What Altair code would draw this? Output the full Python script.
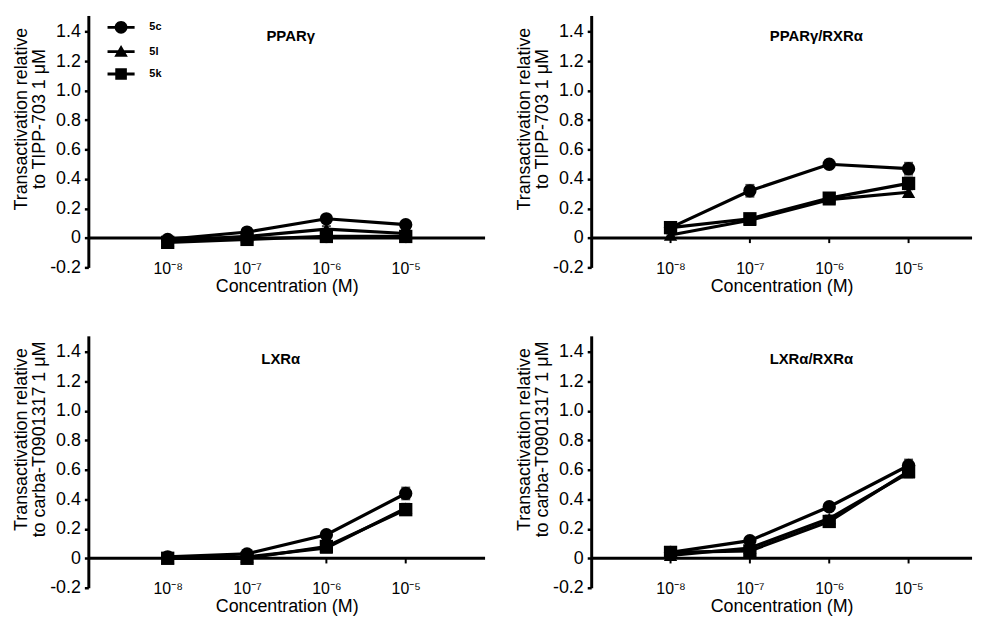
import json
import altair as alt
import pandas as pd

FONT = "Liberation Sans"

# ---------------- data ----------------
series_names = ["5c", "5l", "5k"]
series_shapes = ["circle", "triangle-up", "square"]
conc_pos = [1, 2, 3, 4]
conc_labels = ["10⁻⁸", "10⁻⁷", "10⁻⁶", "10⁻⁵"]
y_ticks = [-0.2, 0, 0.2, 0.4, 0.6, 0.8, 1.0, 1.2, 1.4]

panel_titles = ["PPARγ", "PPARγ/RXRα", "LXRα", "LXRα/RXRα"]
y_title_top = ["Transactivation relative", "to TIPP-703 1 μM"]
y_title_bottom = ["Transactivation relative", "to carba-T0901317 1 μM"]

# PPARγ
pparg_5c = [-0.01, 0.04, 0.13, 0.09]
pparg_5l = [-0.02, 0.01, 0.06, 0.03]
pparg_5k = [-0.03, -0.01, 0.01, 0.01]
pparg_err_5c = [0.02, 0.02, 0.02, 0.02]
pparg_err_5l = [0.02, 0.01, 0.02, 0.02]
pparg_err_5k = [0.01, 0.01, 0.01, 0.01]

# PPARγ/RXRα
ppargrxr_5c = [0.07, 0.32, 0.50, 0.47]
ppargrxr_5l = [0.02, 0.12, 0.26, 0.31]
ppargrxr_5k = [0.07, 0.13, 0.27, 0.37]
ppargrxr_err_5c = [0.02, 0.04, 0.02, 0.04]
ppargrxr_err_5l = [0.01, 0.02, 0.02, 0.03]
ppargrxr_err_5k = [0.02, 0.02, 0.03, 0.04]

# LXRα
lxr_5c = [0.01, 0.03, 0.16, 0.44]
lxr_5l = [0.00, 0.01, 0.07, 0.34]
lxr_5k = [0.00, 0.00, 0.08, 0.33]
lxr_err_5c = [0.01, 0.01, 0.02, 0.04]
lxr_err_5l = [0.01, 0.01, 0.02, 0.03]
lxr_err_5k = [0.01, 0.01, 0.02, 0.03]

# LXRα/RXRα
lxrrxr_5c = [0.04, 0.12, 0.35, 0.63]
lxrrxr_5l = [0.02, 0.07, 0.27, 0.58]
lxrrxr_5k = [0.04, 0.05, 0.25, 0.59]
lxrrxr_err_5c = [0.01, 0.02, 0.02, 0.04]
lxrrxr_err_5l = [0.01, 0.02, 0.02, 0.03]
lxrrxr_err_5k = [0.01, 0.02, 0.03, 0.03]

# legend symbols: marker with a short line through it
legend_paths = [
    "M-1,0 A1,1 0 1,1 1,0 A1,1 0 1,1 -1,0 Z M-2.1,-0.22 H-0.9 V0.22 H-2.1 Z M0.9,-0.22 H2.1 V0.22 H0.9 Z",
    "M0,-1.05 L1.05,0.8 L-1.05,0.8 Z M-2.1,-0.22 H-0.45 V0.22 H-2.1 Z M0.45,-0.22 H2.1 V0.22 H0.45 Z",
    "M-0.9,-0.9 H0.9 V0.9 H-0.9 Z M-2.1,-0.22 H-0.85 V0.22 H-2.1 Z M0.85,-0.22 H2.1 V0.22 H0.85 Z",
]


def panel_df(vals, errs):
    rows = []
    for s, v, e in zip(series_names, vals, errs):
        for xi, vi, ei in zip(conc_pos, v, e):
            rows.append(dict(series=s, xi=xi, value=vi, lo=vi - ei, hi=vi + ei))
    return pd.DataFrame(rows)


x_label_expr = json.dumps(conc_labels, ensure_ascii=False) + "[datum.value - 1]"
y_label_expr = ("datum.value == 0 ? '0' : (datum.value < 0 ? '-' : '') + "
                "format(abs(datum.value), '.1f')")


def make_panel(df, title, ytitle, width, xmax, tdx, tdy, legend=False):
    xs = alt.Scale(domain=[0, xmax], nice=False, zero=False)
    ys = alt.Scale(domain=[-0.2, 1.51], nice=False, zero=False)
    xax = alt.Axis(values=conc_pos, tickCount=len(conc_pos) + 2,
                   labelExpr=x_label_expr, domain=False,
                   ticks=False, tickSize=0, grid=False, labelPadding=-7,
                   labelFontSize=16, labelFont=FONT, labelColor="black",
                   labelOverlap=False,
                   title="Concentration (M)", titleFontSize=18, titleFont=FONT,
                   titleFontWeight="normal", titleColor="black", titleY=19,
                   titleBaseline="middle")
    yax = alt.Axis(values=y_ticks, tickCount=len(y_ticks) + 2,
                   labelExpr=y_label_expr, grid=False,
                   domainWidth=3, domainColor="black", tickSize=4, tickWidth=2.5,
                   tickColor="black", labelPadding=4, labelFontSize=18,
                   labelOverlap=False,
                   labelFont=FONT, labelColor="black", title=ytitle,
                   titleFontSize=18, titleFont=FONT, titleFontWeight="normal",
                   titleColor="black", titleX=-67, titleY=104, titleAngle=270,
                   titleAlign="center", titleBaseline="middle",
                   titleLineHeight=18)

    def X(f):
        return alt.X(f, scale=xs, axis=xax)

    def Y(f):
        return alt.Y(f, scale=ys, axis=yax)

    base = alt.Chart(df)
    zero = alt.Chart(pd.DataFrame({"z": [0]})).mark_rule(
        color="black", strokeWidth=3).encode(y=Y("z:Q"))
    xticks = alt.Chart(pd.DataFrame({"xi": conc_pos})).mark_rule(
        color="black", strokeWidth=2).encode(
        x=X("xi:Q"), y=alt.datum(0), y2=alt.datum(-0.035))
    lines = base.mark_line(color="black", strokeWidth=3.2).encode(
        x=X("xi:Q"), y=Y("value:Q"), detail="series:N")
    errs = base.mark_errorbar(color="black", thickness=2,
                              ticks={"size": 9, "thickness": 2}).encode(
        x=X("xi:Q"), y=Y("lo:Q"), y2="hi:Q", detail="series:N")
    pts = base.mark_point(filled=True, color="black", opacity=1, size=180).encode(
        x=X("xi:Q"), y=Y("value:Q"),
        shape=alt.Shape("series:N",
                        scale=alt.Scale(domain=series_names, range=series_shapes),
                        legend=None))
    layers = [zero, xticks, lines, errs, pts]
    if legend:
        leg = base.transform_filter("false").mark_point(
            filled=True, color="black", opacity=1).encode(
            x=X("xi:Q"), y=Y("value:Q"),
            shape=alt.Shape("series:N",
                            scale=alt.Scale(domain=series_names, range=legend_paths),
                            legend=alt.Legend(orient="none", legendX=26.5, legendY=5.5,
                                              title=None, symbolSize=169,
                                              labelFontSize=11, labelFont=FONT,
                                              labelFontWeight="bold",
                                              labelColor="black", labelOffset=22,
                                              rowPadding=10.5, padding=0,
                                              symbolFillColor="black",
                                              symbolStrokeColor="black",
                                              symbolStrokeWidth=0,
                                              symbolOpacity=1)))
        layers.append(leg)
    ch = alt.layer(*layers).properties(
        width=width, height=254,
        title=alt.TitleParams(text=title, fontSize=15, fontWeight="bold", font=FONT,
                              color="black", anchor="middle", dx=tdx, dy=tdy))
    if legend:
        ch = ch.resolve_scale(shape="independent")
    return ch


p1 = make_panel(panel_df([pparg_5c, pparg_5l, pparg_5k],
                         [pparg_err_5c, pparg_err_5l, pparg_err_5k]),
                panel_titles[0], y_title_top, 400, 5, 4, 33, legend=True)
p2 = make_panel(panel_df([ppargrxr_5c, ppargrxr_5l, ppargrxr_5k],
                         [ppargrxr_err_5c, ppargrxr_err_5l, ppargrxr_err_5k]),
                panel_titles[1], y_title_top, 384, 4.8, 35, 33)
p3 = make_panel(panel_df([lxr_5c, lxr_5l, lxr_5k],
                         [lxr_err_5c, lxr_err_5l, lxr_err_5k]),
                panel_titles[2], y_title_bottom, 400, 5, -6, 35)
p4 = make_panel(panel_df([lxrrxr_5c, lxrrxr_5l, lxrrxr_5k],
                         [lxrrxr_err_5c, lxrrxr_err_5l, lxrrxr_err_5k]),
                panel_titles[3], y_title_bottom, 384, 4.8, 30, 35)

chart = alt.vconcat(
    alt.hconcat(p1, p2, spacing=29),
    alt.hconcat(p3, p4, spacing=29),
    spacing=41,
).configure(font=FONT, background="white").configure_view(stroke=None)

chart.save("out.html", embed_options={"renderer": "svg", "actions": False})
